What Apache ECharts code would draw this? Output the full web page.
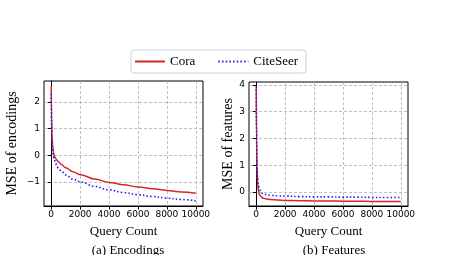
<!DOCTYPE html>
<html><head><meta charset="utf-8">
<script src="https://cdn.jsdelivr.net/npm/echarts@6/dist/echarts.min.js"></script>
<style>html,body{margin:0;padding:0;background:#fff}#c{width:455px;height:255px}</style>
</head><body><div id="c"></div>
<script>
const queryCount = [0, 25, 50, 100, 150, 200, 300, 400, 500, 700, 1000, 1500, 2000, 3000, 4000, 5000, 6000, 7000, 8000, 9000, 10000];
const encCora = [2.57, 1.5, 0.75, 0.35, 0.12, -0.02, -0.12, -0.19, -0.25, -0.35, -0.47, -0.62, -0.73, -0.89, -1.02, -1.11, -1.19, -1.26, -1.32, -1.38, -1.43];
const encCiteSeer = [2.3, 1.1, 0.55, 0.15, -0.03, -0.12, -0.3, -0.42, -0.5, -0.6, -0.74, -0.9, -1.0, -1.17, -1.3, -1.4, -1.48, -1.55, -1.61, -1.66, -1.71];
const featCora = [3.9, 2.0, 1.0, 0.3, 0.05, -0.07, -0.15, -0.2, -0.23, -0.26, -0.28, -0.3, -0.31, -0.32, -0.33, -0.33, -0.34, -0.34, -0.35, -0.35, -0.35];
const featCiteSeer = [3.95, 2.2, 1.2, 0.5, 0.25, 0.15, 0.03, -0.04, -0.07, -0.1, -0.12, -0.14, -0.15, -0.17, -0.18, -0.18, -0.19, -0.19, -0.2, -0.2, -0.2];
const xTicks = [0, 2000, 4000, 6000, 8000, 10000];
const encTicks = [-1, 0, 1, 2];
const featTicks = [0, 1, 2, 3, 4];
const seriesNames = ['Cora', 'CiteSeer'];
const captions = ['(a) Encodings', '(b) Features'];
const yNames = ['MSE of encodings', 'MSE of features'];
const xName = 'Query Count';

const pair = (xs, ys) => xs.map((x, i) => [x, ys[i]]);
const serif = 'Liberation Serif';
const sans = 'DejaVu Sans';
const fmt = v => String(v).replace('-', '\u2212');
function xAx(gi) {
  return {
    type: 'value', gridIndex: gi, min: -500, max: 10500,
    name: xName, nameLocation: 'middle', nameGap: 19,
    nameTextStyle: {fontFamily: serif, fontSize: 13, color: '#000'},
    axisLine: {show: true, onZero: false, lineStyle: {color: '#000', width: 1}},
    axisTick: {show: true, length: 3.5, customValues: xTicks, lineStyle: {color: '#000'}},
    axisLabel: {customValues: xTicks, fontFamily: sans, fontSize: 9, color: '#000', margin: 4, formatter: fmt},
    splitLine: {show: true, customValues: xTicks, lineStyle: {color: '#b0b0b0', type: [3, 2], width: 0.8}}
  };
}
function yAx(gi, min, max, ticks, name, gap) {
  return {
    type: 'value', gridIndex: gi, min: min, max: max,
    name: name, nameLocation: 'middle', nameGap: gap,
    nameTextStyle: {fontFamily: serif, fontSize: 14, color: '#000'},
    axisLine: {show: true, lineStyle: {color: '#000', width: 1}},
    axisTick: {show: true, length: 3.5, customValues: ticks, lineStyle: {color: '#000'}},
    axisLabel: {customValues: ticks, fontFamily: sans, fontSize: 9, color: '#000', margin: 4, formatter: fmt},
    splitLine: {show: true, customValues: ticks, lineStyle: {color: '#b0b0b0', type: [3, 2], width: 0.8}}
  };
}
const red = '#d62728', blue = '#1f1fff';
function ser(name, gi, data, color, dotted) {
  return {
    name: name, type: 'line', xAxisIndex: gi, yAxisIndex: gi, data: data,
    symbol: 'none', smooth: 0.4, smoothMonotone: 'x', z: dotted ? 3 : 2,
    itemStyle: {color: color},
    lineStyle: {color: color, width: dotted ? 1.6 : 1.5, type: dotted ? [1.5, 2.2] : 'solid'}
  };
}
const chart = echarts.init(document.getElementById('c'), null, {renderer: 'canvas'});
chart.setOption({
  animation: false,
  backgroundColor: '#fff',
  grid: [
    {left: 44, top: 81, width: 159, height: 125, show: true, borderColor: '#000', borderWidth: 1, backgroundColor: 'transparent'},
    {left: 249, top: 82, width: 159, height: 124, show: true, borderColor: '#000', borderWidth: 1, backgroundColor: 'transparent'}
  ],
  title: [
    {text: captions[0], left: 123, top: 239, textAlign: 'center', textStyle: {fontFamily: serif, fontSize: 13, fontWeight: 'normal', color: '#000'}},
    {text: captions[1], left: 329, top: 239, textAlign: 'center', textStyle: {fontFamily: serif, fontSize: 13, fontWeight: 'normal', color: '#000'}}
  ],
  legend: {
    data: seriesNames, left: 131, top: 50, itemWidth: 30, itemHeight: 10, itemGap: 22,
    padding: [5, 8, 5, 3], borderColor: '#d0d0d0', borderWidth: 1, borderRadius: 3,
    itemStyle: {opacity: 0},
    textStyle: {fontFamily: serif, fontSize: 13, color: '#000'}
  },
  xAxis: [xAx(0), xAx(1)],
  yAxis: [yAx(0, -1.905, 2.78, encTicks, yNames[0], 25), yAx(1, -0.52, 4.11, featTicks, yNames[1], 14)],
  series: [
    ser(seriesNames[0], 0, pair(queryCount, encCora), red, false),
    ser(seriesNames[1], 0, pair(queryCount, encCiteSeer), blue, true),
    ser(seriesNames[0], 1, pair(queryCount, featCora), red, false),
    ser(seriesNames[1], 1, pair(queryCount, featCiteSeer), blue, true)
  ]
});
</script></body></html>
